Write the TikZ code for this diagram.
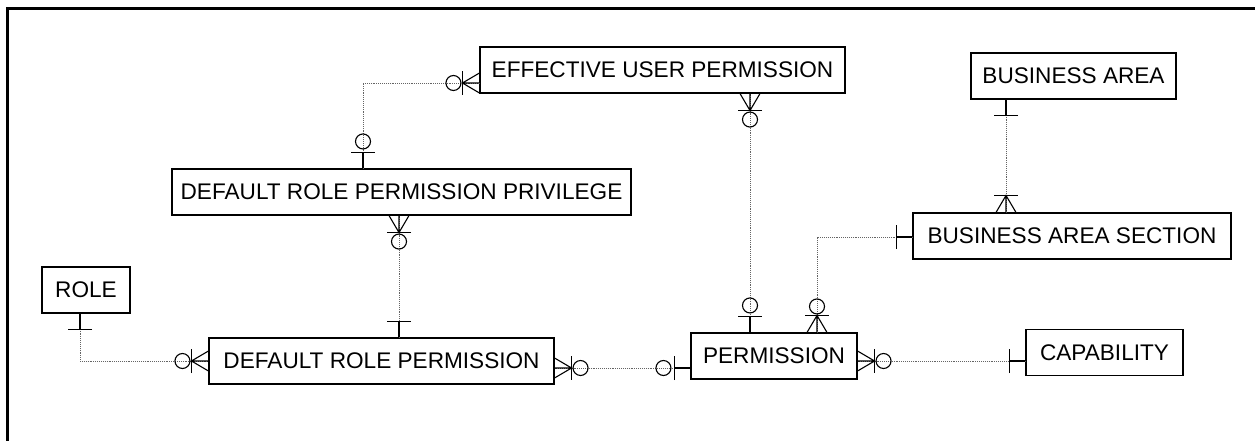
\documentclass[tikz,border=0pt]{standalone}
\usepackage{fontspec}
\setmainfont{Liberation Sans}
\usepackage{tikz}
\usetikzlibrary{calc}
\definecolor{relcolor}{RGB}{100,100,100}
\tikzset{
  sym/.style={line width=1.1pt,black},
  pics/zmany/.style={code={
    \draw[sym] (0,-10) -- (17,0) -- (0,10) (0,0) -- (17,0);
    \draw[sym] (17,-12) -- (17,12);
    \draw[sym] (26,0) circle (7.5pt);
  }},
  pics/many/.style={code={
    \draw[sym] (0,-10) -- (17,0) -- (0,10) (0,0) -- (17,0);
    \draw[sym] (17,-12) -- (17,12);
  }},
  pics/zone/.style={code={
    \draw[sym] (0,0) -- (16,0);
    \draw[sym] (16,-12) -- (16,12);
    \draw[sym] (27,0) circle (7.5pt);
  }},
  pics/one/.style={code={
    \draw[sym] (0,0) -- (16,0);
    \draw[sym] (16,-12) -- (16,12);
  }},
}

\begin{document}
\begin{tikzpicture}[x=1pt,y=-1pt,
  entity/.style={draw,line width=1.1pt,inner sep=0pt,minimum height=46pt,
    font=\fontsize{22.6}{26}\selectfont},
  rel/.style={draw=relcolor,line width=0.9pt,densely dotted}]
  \useasboundingbox (0,0) rectangle (1255,441);
  % frame
  \draw[line width=3pt] (7,441) -- (7,9) -- (1255,9);

  % entities
  \node[entity,minimum width=365pt] (eup) at (662.5,70) {EFFECTIVE USER PERMISSION};
  \node[entity,minimum width=205pt] (ba) at (1073.5,76) {BUSINESS AREA};
  \node[entity,minimum width=459pt] (drpp) at (401.5,192) {DEFAULT ROLE PERMISSION PRIVILEGE};
  \node[entity,minimum width=318pt] (bas) at (1072,236) {BUSINESS AREA SECTION};
  \node[entity,minimum width=88pt] (role) at (86,290) {ROLE};
  \node[entity,minimum width=345pt] (drp) at (381.5,361) {DEFAULT ROLE PERMISSION};
  \node[entity,minimum width=166pt] (perm) at (774,356) {PERMISSION};
  \node[entity,minimum width=157pt] (cap) at (1104.5,352.5) {CAPABILITY};

  % bend points and lanes
  \coordinate (k1) at (363,83);
  \coordinate (k2) at (750,0);
  \coordinate (k3) at (399,0);
  \coordinate (k4) at (80,361);
  \coordinate (k5) at (0,368);
  \coordinate (k6) at (0,361);
  \coordinate (k7) at (817,237);
  \coordinate (k8) at (1006,0);

  % relationships
  \draw[rel] (drpp.north -| k1) |- (eup.west |- k1);
  \draw[rel] (eup.south -| k2) -- (perm.north -| k2);
  \draw[rel] (drpp.south -| k3) -- (drp.north -| k3);
  \draw[rel] (role.south -| k4) |- (drp.west |- k4);
  \draw[rel] (drp.east |- k5) -- (perm.west |- k5);
  \draw[rel] (perm.east |- k6) -- (cap.west |- k6);
  \draw[rel] (perm.north -| k7) |- (bas.west |- k7);
  \draw[rel] (ba.south -| k8) -- (bas.north -| k8);

  % cardinality ends
  \pic[rotate=180] at (eup.west |- k1) {zmany};
  \pic[rotate=90] at (drpp.north -| k1) {zone};
  \pic[rotate=-90] at (eup.south -| k2) {zmany};
  \pic[rotate=90] at (perm.north -| k2) {zone};
  \pic[rotate=-90] at (drpp.south -| k3) {zmany};
  \pic[rotate=90] at (drp.north -| k3) {one};
  \pic[rotate=-90] at (role.south -| k4) {one};
  \pic[rotate=180] at (drp.west |- k4) {zmany};
  \pic at (drp.east |- k5) {zmany};
  \pic[rotate=180] at (perm.west |- k5) {zone};
  \pic at (perm.east |- k6) {zmany};
  \pic[rotate=180] at (cap.west |- k6) {one};
  \pic[rotate=90] at (perm.north -| k7) {zmany};
  \pic[rotate=180] at (bas.west |- k7) {one};
  \pic[rotate=-90] at (ba.south -| k8) {one};
  \pic[rotate=90] at (bas.north -| k8) {many};
\end{tikzpicture}
\end{document}
